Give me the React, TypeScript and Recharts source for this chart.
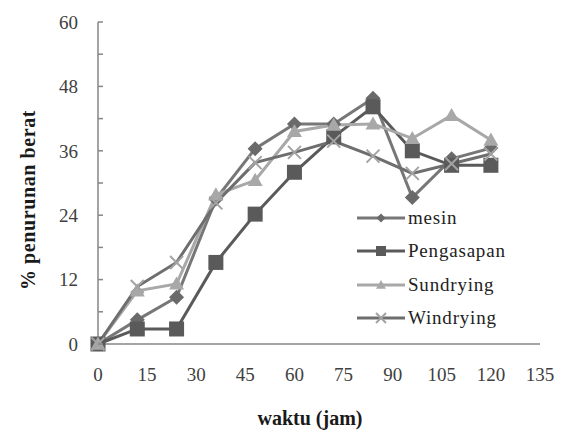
import React from "react";
import { LineChart, Line, XAxis, YAxis } from "recharts";

const hours = [0, 12, 24, 36, 48, 60, 72, 84, 96, 108, 120];
const mesin = [0, 4.5, 8.7, 27, 36.4, 41, 41, 45.8, 27.3, 34.5, 36.5];
const pengasapan = [0, 2.8, 2.8, 15.2, 24.2, 32, 38.6, 44.2, 36, 33.3, 33.3];
const sundrying = [0, 9.9, 11.2, 27.8, 30.5, 39.6, 40.8, 41, 38.3, 42.6, 38];
const windrying = [0, 10.7, 15.2, 26.3, 33.8, 35.7, 37.8, 35, 31.8, 33.6, 35.4];

const xTicks = [0, 15, 30, 45, 60, 75, 90, 105, 120, 135];
const yTicks = [0, 6, 12, 18, 24, 30, 36, 42, 48, 54, 60];

const data = hours.map((h, i) => ({
  jam: h,
  mesin: mesin[i],
  pengasapan: pengasapan[i],
  sundrying: sundrying[i],
  windrying: windrying[i]
}));

const FONT = "'Liberation Serif', 'Times New Roman', serif";
const AXIS = "#868686";

const C = {
  mesin: { line: "#777777", mark: "#6a6a6a" },
  pengasapan: { line: "#5a5a5a", mark: "#5a5a5a" },
  sundrying: { line: "#a8a8a8", mark: "#a8a8a8" },
  windrying: { line: "#6e6e6e", mark: "#a3a3a3" }
};

function Diamond({ cx, cy, color, s = 7.5 }: any) {
  if (cx == null || cy == null) return null;
  return <path d={`M${cx},${cy - s} L${cx + s},${cy} L${cx},${cy + s} L${cx - s},${cy} Z`} fill={color} />;
}

function Square({ cx, cy, color, s = 7.5 }: any) {
  if (cx == null || cy == null) return null;
  return <rect x={cx - s} y={cy - s} width={s * 2} height={s * 2} fill={color} />;
}

function Triangle({ cx, cy, color, s = 7.5 }: any) {
  if (cx == null || cy == null) return null;
  return <path d={`M${cx},${cy - s} L${cx + s},${cy + s * 0.75} L${cx - s},${cy + s * 0.75} Z`} fill={color} />;
}

function Cross({ cx, cy, color, s = 6.5 }: any) {
  if (cx == null || cy == null) return null;
  return (
    <path d={`M${cx - s},${cy - s} L${cx + s},${cy + s} M${cx + s},${cy - s} L${cx - s},${cy + s}`} stroke={color} strokeWidth={2} />
  );
}

const legendItems = [
  { name: "mesin", c: C.mesin, Mark: Diamond, size: 4.5 },
  { name: "Pengasapan", c: C.pengasapan, Mark: Square, size: 5 },
  { name: "Sundrying", c: C.sundrying, Mark: Triangle, size: 5 },
  { name: "Windrying", c: C.windrying, Mark: Cross, size: 5 }
];

function LegendBox() {
  return (
    <div style={{ position: "absolute", left: 356, top: 201, fontFamily: FONT }}>
      {legendItems.map(({ name, c, Mark, size }) => (
        <div key={name} style={{ display: "flex", alignItems: "center", height: 33.5 }}>
          <svg width={50} height={16}>
            <line x1={1} y1={8} x2={49} y2={8} stroke={c.line} strokeWidth={3} />
            <Mark cx={25} cy={8} color={c.mark} s={size} />
          </svg>
          <span style={{ fontSize: 19, letterSpacing: 0.8, color: "#222", marginLeft: 2 }}>{name}</span>
        </div>
      ))}
    </div>
  );
}

function YTick({ x, y, payload }: any) {
  const v = payload.value;
  return (
    <g>
      <line x1={x + 20} y1={y} x2={x + 25} y2={y} stroke={AXIS} strokeWidth={1.5} />
      {v % 12 === 0 && (
        <text x={x} y={y} dy="0.36em" textAnchor="end" fontFamily={FONT} fontSize={19} fill="#404040">
          {v}
        </text>
      )}
    </g>
  );
}

export default function App() {
  return (
    <div style={{ position: "absolute", left: 0, top: 0, width: 565, height: 434, background: "#fff" }}>
      <LineChart width={565} height={434} data={data} margin={{ top: 22, right: 25, left: 0, bottom: 0 }}>
        <XAxis
          dataKey="jam"
          type="number"
          domain={[0, 135]}
          ticks={xTicks}
          interval={0}
          height={90}
          tickLine={false}
          tickSize={0}
          tickMargin={24}
          axisLine={{ stroke: AXIS, strokeWidth: 1.5 }}
          tick={{ fontFamily: FONT, fontSize: 19, fill: "#404040" }}
          label={{
            content: () => (
              <text x={310} y={425} textAnchor="middle" fontFamily={FONT} fontSize={20} fontWeight="bold" fill="#1a1a1a">
                waktu (jam)
              </text>
            )
          }}
        />
        <YAxis
          type="number"
          domain={[0, 60]}
          ticks={yTicks}
          interval={0}
          width={98}
          tickLine={false}
          tickSize={0}
          tickMargin={20}
          axisLine={{ stroke: AXIS, strokeWidth: 1.5 }}
          tick={<YTick />}
          label={{
            content: () => (
              <text
                x={28}
                y={200}
                transform="rotate(-90 28 200)"
                dy="0.35em"
                textAnchor="middle"
                fontFamily={FONT}
                fontSize={20}
                fontWeight="bold"
                letterSpacing={0.6}
                fill="#1a1a1a"
              >
                % penurunan berat
              </text>
            )
          }}
        />
        <Line
          dataKey="mesin"
          name="mesin"
          stroke={C.mesin.line}
          strokeWidth={3}
          dot={<Diamond color={C.mesin.mark} />}
          isAnimationActive={false}
        />
        <Line
          dataKey="pengasapan"
          name="Pengasapan"
          stroke={C.pengasapan.line}
          strokeWidth={3}
          dot={<Square color={C.pengasapan.mark} />}
          isAnimationActive={false}
        />
        <Line
          dataKey="sundrying"
          name="Sundrying"
          stroke={C.sundrying.line}
          strokeWidth={3}
          dot={<Triangle color={C.sundrying.mark} />}
          isAnimationActive={false}
        />
        <Line
          dataKey="windrying"
          name="Windrying"
          stroke={C.windrying.line}
          strokeWidth={3}
          dot={<Cross color={C.windrying.mark} />}
          isAnimationActive={false}
        />
      </LineChart>
      <LegendBox />
    </div>
  );
}
